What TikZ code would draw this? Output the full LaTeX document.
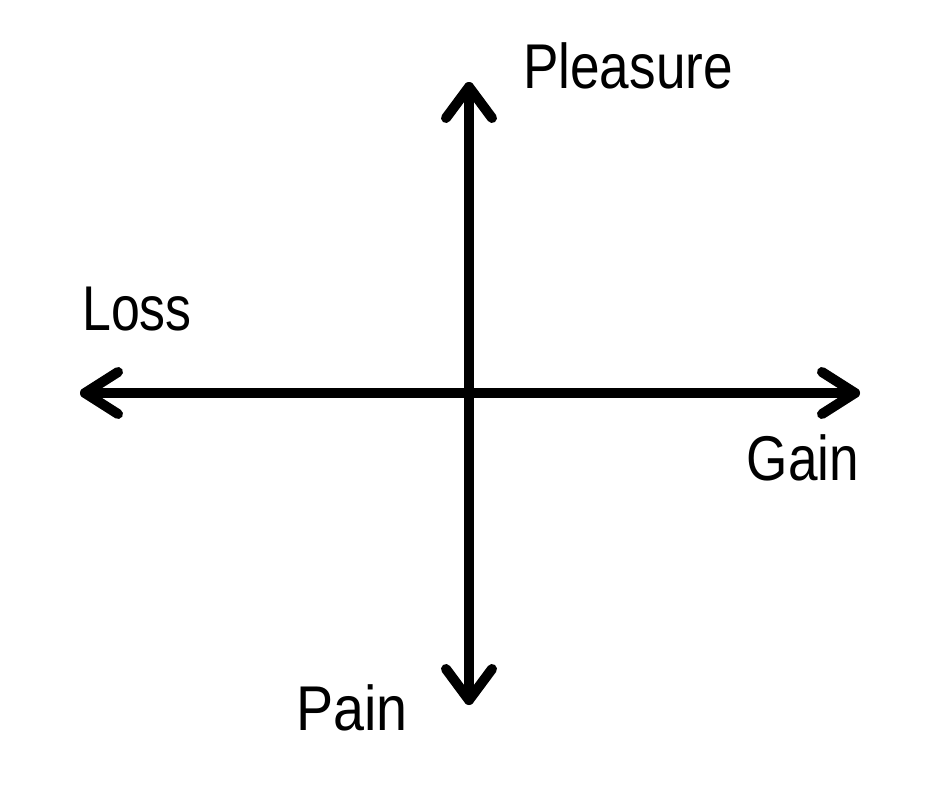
\documentclass[tikz,border=0pt]{standalone}
\usepackage{fontspec}
\setmainfont{Liberation Sans}
\begin{document}
\begin{tikzpicture}[x=0.02cm,y=-0.02cm,
  axis/.style={line width=10*0.02cm, line cap=round, line join=round, black},
  lbl/.style={font=\fontsize{36}{40}\selectfont, inner sep=0pt, anchor=center}]
\useasboundingbox[fill=white] (0,0) rectangle (940,788);
\coordinate (top) at (469,87);
\coordinate (bottom) at (469,700);
\coordinate (left) at (85,393);
\coordinate (right) at (855,393);
\draw[axis] (top) -- (bottom);
\draw[axis] (left) -- (right);
\draw[axis] (top) ++(-23,31) -- (top) -- ++(23,31);
\draw[axis] (bottom) ++(-23,-31) -- (bottom) -- ++(23,-31);
\draw[axis] (left) ++(33,-21) -- (left) -- ++(33,21);
\draw[axis] (right) ++(-33,-21) -- (right) -- ++(-33,21);
\node[lbl] (pleasure) at (628,66) {\scalebox{0.84}[1]{Pleasure}};
\node[lbl] (loss) at (137,309) {\scalebox{0.82}[1]{Loss}};
\node[lbl] (gain) at (803,458) {\scalebox{0.84}[1]{Gain}};
\node[lbl] (pain) at (352,708) {\scalebox{0.88}[1]{Pain}};
\end{tikzpicture}
\end{document}
